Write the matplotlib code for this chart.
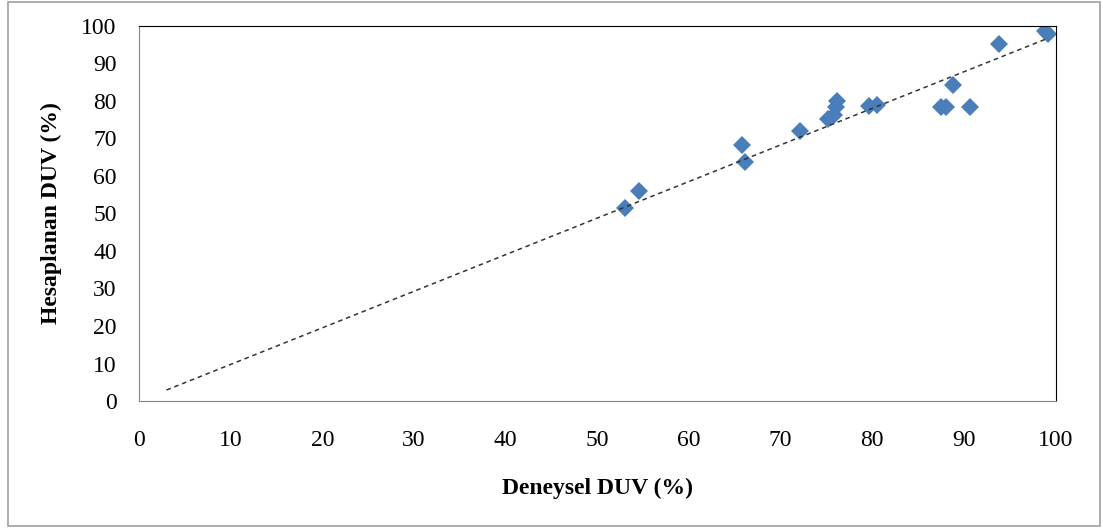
import numpy as np
import matplotlib.pyplot as plt
from matplotlib.patches import Rectangle

# experimental vs calculated DUV (%)
deneysel = [53.0, 54.5, 65.8, 66.1, 72.1, 75.2, 75.8, 76.0, 76.1,
            79.6, 80.5, 87.5, 88.0, 88.8, 90.7, 93.8, 98.9, 99.2]
hesaplanan = [51.4, 55.9, 68.3, 63.8, 71.9, 75.1, 76.3, 78.4, 80.0,
              78.6, 79.0, 78.5, 78.5, 84.3, 78.5, 95.1, 98.6, 97.9]

x_ticks = list(range(0, 101, 10))
y_ticks = list(range(0, 101, 10))

plt.rcParams['font.family'] = ['Liberation Serif', 'DejaVu Serif']

fig = plt.figure(figsize=(11.03, 5.28), dpi=100)
ax = fig.add_axes([0.126, 0.2405, 0.831, 0.7105])

# trendline through origin
x = np.array(deneysel)
y = np.array(hesaplanan)
slope = np.sum(x * y) / np.sum(x * x)
tx = np.array([3, 99])
ax.plot(tx, slope * tx, linestyle=(0, (3, 2.5)), color='0.2', linewidth=1.1, zorder=3)

ax.plot(deneysel, hesaplanan, 'D', color='#4A7EBB', markersize=9,
        markeredgewidth=0, zorder=2)

ax.set_xlim(0, 100)
ax.set_ylim(0, 100)
ax.set_xticks(x_ticks)
ax.set_yticks(y_ticks)
ax.tick_params(length=0, labelsize=17)
ax.tick_params(axis='x', pad=21)
ax.tick_params(axis='y', pad=16)

for side in ['left', 'bottom']:
  ax.spines[side].set_color('#868686')
for side in ['top', 'right']:
  ax.spines[side].set_color('black')

ax.set_xlabel('Deneysel DUV (%)', fontsize=17, fontweight='bold', labelpad=19)
ax.set_ylabel('Hesaplanan DUV (%)', fontsize=17, fontweight='bold', labelpad=14)

fig.patches.append(Rectangle((0.007, 0.003), 0.99, 0.993, transform=fig.transFigure,
                             fill=False, edgecolor='#A0A0A0', linewidth=1.2))

fig.savefig('out.png', dpi=100)
